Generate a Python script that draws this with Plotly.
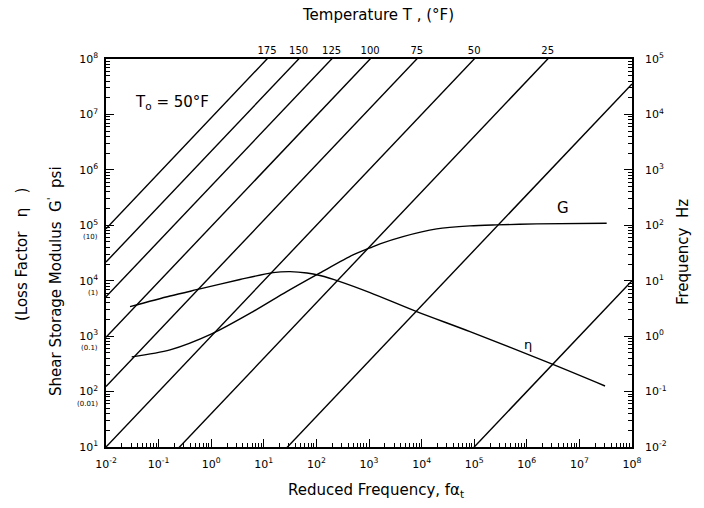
import plotly.graph_objects as go

# ---------------- data ----------------
# Isotherms (°F) and their shift factors alpha_T (reference T0 = 50 °F)
temps = [175, 150, 125, 100, 75, 50, 25, 0, -25]
alpha_T = [1.15e-4, 4.6e-4, 1.95e-3, 1.05e-2, 8.1e-2, 1.0, 25.0, 2820.0, 1.0e7]

# Shear storage modulus G' (psi) vs reduced frequency f*alpha_T
G_redfreq = [0.0308, 0.165, 1.02, 6.24, 27.2, 117, 497, 1045, 1618, 4426, 19360, 83200, 2.68e5, 1.54e6, 3.30e7]
G_psi = [422, 564, 1096, 2767, 6353, 13840, 29240, 39080, 46130, 62520, 86100, 97500, 101600, 105900, 109100]

# Loss factor eta vs reduced frequency
eta_redfreq = [0.0286, 0.165, 0.612, 3.53, 15.0, 31.5, 66.2, 117, 281, 1045, 8070, 83200, 2.97e6, 3.07e7]
eta = [0.341, 0.53, 0.711, 1.05, 1.40, 1.46, 1.38, 1.24, 0.964, 0.610, 0.277, 0.1205, 0.0315, 0.0126]

# axis ranges (decades) and tick labels
x_exps = [-2, -1, 0, 1, 2, 3, 4, 5, 6, 7, 8]
G_exps = [1, 2, 3, 4, 5, 6, 7, 8]
f_exps = [-2, -1, 0, 1, 2, 3, 4, 5]
eta_side_labels = {5: "(10)", 4: "(1)", 3: "(0.1)", 2: "(0.01)"}
f_top = 1e5  # upper limit of frequency axis (Hz)
redfreq_span = [1e-2, 1e8]

FONT = "DejaVu Sans"


def pw(e):
    return "10<sup>%d</sup>" % e


fig = go.Figure()

# isotherm lines: frequency = reduced frequency / alpha_T
for T, a in zip(temps, alpha_T):
    fig.add_trace(go.Scatter(
        x=redfreq_span, y=[v / a for v in redfreq_span],
        xaxis="x", yaxis="y2", mode="lines",
        line=dict(color="black", width=1.4), hoverinfo="skip", showlegend=False))

# G' curve
fig.add_trace(go.Scatter(
    x=G_redfreq, y=G_psi, xaxis="x", yaxis="y", mode="lines",
    line=dict(color="black", width=1.4, shape="spline", smoothing=0.8),
    showlegend=False))

# eta curve
fig.add_trace(go.Scatter(
    x=eta_redfreq, y=eta, xaxis="x", yaxis="y3", mode="lines",
    line=dict(color="black", width=1.4, shape="spline", smoothing=0.8),
    showlegend=False))

# temperature labels on top axis: where each isotherm meets the top edge
top_T = [T for T, a in zip(temps, alpha_T) if f_top * a <= redfreq_span[1]]
top_pos = [f_top * a for a in alpha_T if f_top * a <= redfreq_span[1]]
fig.add_trace(go.Scatter(
    x=top_pos, y=[f_top] * len(top_pos), xaxis="x2", yaxis="y2", mode="markers",
    marker=dict(opacity=0), hoverinfo="skip", showlegend=False))

axis_common = dict(showgrid=False, zeroline=False, color="black")
tick_font = dict(family=FONT, size=11, color="black")
minor_ticks = dict(ticks="inside", ticklen=4, dtick="D1", tickcolor="black")

fig.update_layout(
    width=704, height=508,
    margin=dict(l=106, r=72, t=59, b=61),
    paper_bgcolor="white", plot_bgcolor="white",
    font=dict(family=FONT, color="black"),
    xaxis=dict(type="log", range=[-2, 8], tickvals=[10 ** e for e in x_exps],
               ticktext=[pw(e) for e in x_exps], ticks="inside", ticklen=8,
               showline=True, linecolor="black", linewidth=1.5, mirror=True,
               ticklabelstandoff=6, tickfont=tick_font, minor=minor_ticks,
               **axis_common),
    xaxis2=dict(type="log", range=[-2, 8], overlaying="x", side="top",
                anchor="y", tickvals=top_pos, ticktext=[str(t) for t in top_T],
                ticks="", showline=False, ticklabelstandoff=2,
                tickfont=dict(family=FONT, size=10, color="black"), **axis_common),
    yaxis=dict(type="log", range=[1, 8], tickvals=[10 ** e for e in G_exps],
               ticktext=[pw(e) for e in G_exps], ticks="inside", ticklen=8,
               showline=True, linecolor="black", linewidth=1.5,
               ticklabelstandoff=4, tickfont=tick_font, minor=minor_ticks,
               **axis_common),
    yaxis2=dict(type="log", range=[-2, 5], overlaying="y", side="right",
                anchor="x", tickvals=[10 ** e for e in f_exps],
                ticktext=[pw(e) for e in f_exps], ticks="inside", ticklen=8,
                showline=True, linecolor="black", linewidth=1.5,
                ticklabelstandoff=9, tickfont=tick_font, minor=minor_ticks,
                **axis_common),
    yaxis3=dict(type="log", range=[-3, 4], overlaying="y", visible=False),
)


def px_ann(text, px, py, size=15, angle=0, xanchor="center"):
    return dict(text=text, xref="paper", yref="paper",
                x=(px - 106) / 526, y=(447 - py) / 388, showarrow=False,
                xanchor=xanchor, yanchor="middle", textangle=angle,
                font=dict(family=FONT, size=size, color="black"))


ann = [
    px_ann("Temperature T , (°F)", 378, 15),
    px_ann("Reduced Frequency, fα<sub>t</sub>", 376, 490),
    px_ann("Shear Storage Modulus  G<sup>'</sup>  psi", 55, 281, angle=-90),
    px_ann("(Loss Factor   η   )", 22, 255, angle=-90),
    px_ann("Frequency  Hz", 683, 252, angle=-90),
    px_ann("G", 563, 208),
    px_ann("η", 528, 344, size=13),
    px_ann("T<sub>o</sub> = 50°F", 133, 102, xanchor="left"),
]
# loss factor values under the modulus tick labels
for e, lab in eta_side_labels.items():
    ann.append(dict(text=lab, xref="paper", yref="y", x=-0.012, y=e, xanchor="right",
                    yanchor="middle", yshift=-12, showarrow=False,
                    font=dict(family=FONT, size=7, color="black")))

fig.update_layout(annotations=ann)
fig.write_html("out.html")
